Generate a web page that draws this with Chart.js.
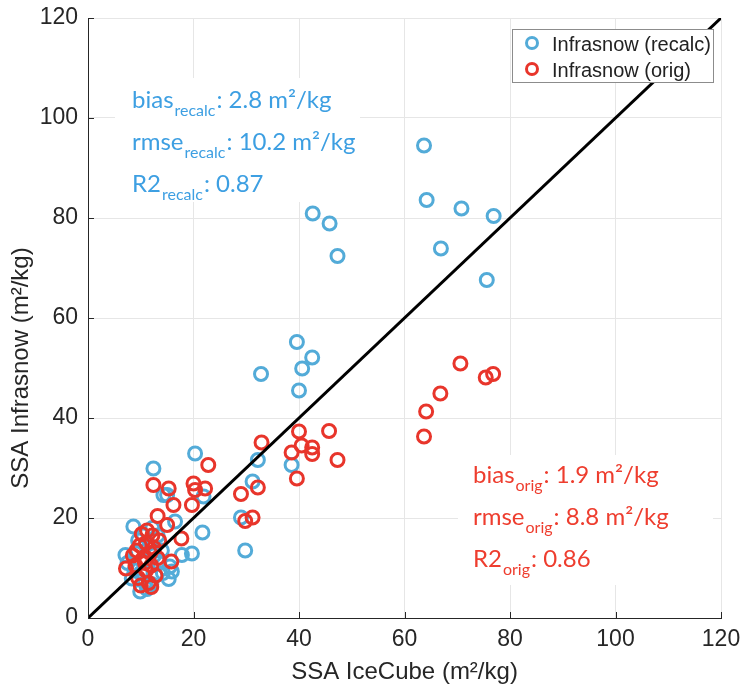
<!DOCTYPE html>
<html>
<head>
<meta charset="utf-8">
<script src="https://cdn.jsdelivr.net/npm/chart.js@4.4.1/dist/chart.umd.min.js"></script>
<style>
  html, body { margin: 0; padding: 0; background: #fff; }
  #wrap { width: 745px; height: 691px; }
</style>
</head>
<body>
<div id="wrap"><canvas id="scatter" width="745" height="691"></canvas></div>
<script>
// ----------------------------------------------------
// DATA
// ----------------------------------------------------
const recalcX = [63.7, 64.2, 70.8, 76.9, 66.9, 75.6, 42.6, 45.8, 47.3, 39.6, 42.5, 40.6, 32.8, 40.0,
    38.6, 32.2, 31.2, 29.0, 29.8, 20.3, 12.4, 15.0, 14.3, 21.9, 16.5, 21.7, 19.7, 17.8, 15.5, 15.3, 15.9,
    8.6, 7.1, 7.5, 8.3, 9.9, 11.2, 12.0, 12.8, 13.5, 14.0, 13.2, 12.2, 9.5, 9.0, 10.0, 11.0, 12.0, 10.5,
    8.8, 14.2, 10.8, 12.5];
const recalcY = [94.5, 83.6, 81.9, 80.4, 73.9, 67.6, 80.9, 78.9, 72.4, 55.2, 52.1, 49.9, 48.8, 45.5,
    30.6, 31.6, 27.3, 20.1, 13.5, 32.9, 29.9, 24.6, 24.6, 24.3, 19.3, 17.1, 12.9, 12.6, 10.3, 7.8, 9.3,
    18.3, 12.6, 11.0, 7.9, 5.3, 5.8, 6.8, 8.5, 11.0, 13.5, 16.5, 18.0, 15.5, 13.0, 9.0, 11.5, 14.0, 16.5,
    9.5, 9.0, 7.0, 12.5];

const origX = [63.7, 64.1, 66.8, 70.6, 75.4, 76.8,
    45.7, 40.0, 32.9, 40.5, 42.5, 42.5, 38.6, 47.3, 39.6, 32.2, 29.0, 29.8, 31.2,
    22.8, 12.4, 15.3, 20.0, 20.3, 22.2, 16.2, 19.7, 13.2, 15.0, 17.7, 15.8,
    7.2, 8.5, 9.0, 9.5, 9.8, 10.2, 10.5, 11.0, 11.0, 11.5, 11.8, 12.0, 12.2, 12.5, 12.8, 13.2,
    10.0, 11.2, 9.2, 13.5, 10.8, 12.0];
const origY = [36.3, 41.3, 44.9, 50.9, 48.1, 48.8,
    37.4, 37.3, 35.1, 34.5, 34.1, 32.8, 33.1, 31.6, 27.9, 26.1, 24.8, 19.4, 20.1,
    30.6, 26.6, 25.9, 26.9, 25.6, 25.9, 22.6, 22.6, 20.4, 18.6, 15.9, 11.3,
    9.9, 12.5, 10.5, 8.0, 14.5, 16.8, 12.0, 9.5, 15.0, 7.0, 13.0, 10.5, 16.5, 14.0, 8.5, 12.0,
    6.5, 17.5, 13.5, 15.5, 11.0, 6.2];

const oneToOne = [0, 120];
const axisTicks = [0, 20, 40, 60, 80, 100, 120];

const statsRecalc = [
    ['bias', 'recalc', ': 2.8 m²/kg'],
    ['rmse', 'recalc', ': 10.2 m²/kg'],
    ['R2', 'recalc', ': 0.87']
];
const statsOrig = [
    ['bias', 'orig', ': 1.9 m²/kg'],
    ['rmse', 'orig', ': 8.8 m²/kg'],
    ['R2', 'orig', ': 0.86']
];

const BLUE = '#53abd8';
const RED = '#e8352b';
const BLUE_TEXT = '#3d9fe2';
const RED_TEXT = '#ee3d2e';
const AXIS_FONT = "'Liberation Sans', Arial, sans-serif";
const STAT_FONT = "Lato, 'Open Sans', sans-serif";

// ----------------------------------------------------
// OVERLAY: inward ticks, y label, legend box, stats text
// ----------------------------------------------------
function drawStats(ctx, lines, x, y0, color) {
    lines.forEach((ln, i) => {
        const y = y0 + i * 42;
        let cx = x;
        ctx.fillStyle = color;
        ctx.textBaseline = 'alphabetic';
        ctx.textAlign = 'left';
        ctx.font = '24px ' + STAT_FONT;
        ctx.fillText(ln[0], cx, y);
        cx += ctx.measureText(ln[0]).width + 1;
        ctx.font = '16px ' + STAT_FONT;
        ctx.fillText(ln[1], cx, y + 8);
        cx += ctx.measureText(ln[1]).width + 1;
        ctx.font = '24px ' + STAT_FONT;
        ctx.fillText(ln[2], cx, y);
    });
}

const overlay = {
    id: 'overlay',
    afterDraw(chart) {
        const ctx = chart.ctx;
        const xs = chart.scales.x, ys = chart.scales.y;
        ctx.save();

        // inward tick marks
        ctx.strokeStyle = '#262626';
        ctx.lineWidth = 1;
        axisTicks.forEach(t => {
            const px = Math.round(xs.getPixelForValue(t)) + 0.5;
            ctx.beginPath(); ctx.moveTo(px, ys.bottom); ctx.lineTo(px, ys.bottom - 6); ctx.stroke();
            const py = Math.round(ys.getPixelForValue(t)) + 0.5;
            ctx.beginPath(); ctx.moveTo(xs.left, py); ctx.lineTo(xs.left + 6, py); ctx.stroke();
        });

        // y axis label (sits a bit below the axis centre in the original)
        ctx.save();
        ctx.translate(21, 368);
        ctx.rotate(-Math.PI / 2);
        ctx.fillStyle = '#262626';
        ctx.font = '24px ' + AXIS_FONT;
        ctx.textAlign = 'center';
        ctx.textBaseline = 'middle';
        ctx.fillText('SSA Infrasnow (m²/kg)', 0, 0);
        ctx.restore();

        // stats text boxes (white background hides grid)
        ctx.fillStyle = '#fff';
        ctx.fillRect(115, 78, 245, 124);
        ctx.fillRect(458, 455, 255, 130);
        drawStats(ctx, statsRecalc, 132, 108, BLUE_TEXT);
        drawStats(ctx, statsOrig, 473, 483, RED_TEXT);

        // legend
        const lx = 512, ly = 29, lw = 201, lh = 53;
        ctx.fillStyle = '#fff';
        ctx.fillRect(lx, ly, lw, lh);
        ctx.strokeStyle = '#8c8c8c';
        ctx.lineWidth = 1;
        ctx.strokeRect(lx + 0.5, ly + 0.5, lw, lh);
        const items = chart.data.datasets.filter(d => d.inLegend);
        items.forEach((d, i) => {
            const cy = ly + 14 + i * 26;
            ctx.beginPath();
            ctx.arc(lx + 20, cy, 5.5, 0, Math.PI * 2);
            ctx.strokeStyle = d.borderColor;
            ctx.lineWidth = 3;
            ctx.stroke();
            ctx.fillStyle = '#222';
            ctx.font = '20px ' + AXIS_FONT;
            ctx.textBaseline = 'middle';
            ctx.textAlign = 'left';
            ctx.fillText(d.label, lx + 40, cy + 2);
        });
        ctx.restore();
    }
};

// ----------------------------------------------------
// CHART
// ----------------------------------------------------
function toPoints(xs, ys) {
    return xs.map((x, i) => ({ x: x, y: ys[i] }));
}

const ctx = document.getElementById('scatter').getContext('2d');
new Chart(ctx, {
    type: 'scatter',
    data: {
        datasets: [
            {
                label: 'Infrasnow (recalc)',
                data: toPoints(recalcX, recalcY),
                borderColor: BLUE,
                backgroundColor: 'rgba(0,0,0,0)',
                borderWidth: 3,
                pointRadius: 6.5,
                inLegend: true,
                order: 2
            },
            {
                label: 'Infrasnow (orig)',
                data: toPoints(origX, origY),
                borderColor: RED,
                backgroundColor: 'rgba(0,0,0,0)',
                borderWidth: 3,
                pointRadius: 6.5,
                inLegend: true,
                order: 1
            },
            {
                type: 'line',
                label: '1:1',
                data: toPoints(oneToOne, oneToOne),
                borderColor: '#000',
                borderWidth: 3,
                pointRadius: 0,
                fill: false,
                inLegend: false,
                order: 0
            }
        ]
    },
    options: {
        responsive: false,
        animation: false,
        events: [],
        layout: { padding: { left: 0, right: 24, top: 18, bottom: 0 } },
        plugins: { legend: { display: false }, tooltip: { enabled: false } },
        scales: {
            x: {
                type: 'linear',
                min: 0, max: 120,
                afterFit: s => { s.height = 73; s.paddingLeft = 0; s.paddingRight = 0; },
                ticks: { stepSize: 20, color: '#262626', padding: 8, font: { family: AXIS_FONT, size: 23 } },
                grid: { color: '#e6e6e6', drawTicks: false },
                border: { color: '#262626', width: 1 },
                title: {
                    display: true, text: 'SSA IceCube (m²/kg)', color: '#262626',
                    font: { family: AXIS_FONT, size: 24 }, padding: { top: 0, bottom: 4 }
                }
            },
            y: {
                type: 'linear',
                min: 0, max: 120,
                afterFit: s => { s.width = 88; s.paddingTop = 0; s.paddingBottom = 0; },
                ticks: { stepSize: 20, color: '#262626', padding: 10, font: { family: AXIS_FONT, size: 23 } },
                grid: { color: '#e6e6e6', drawTicks: false },
                border: { color: '#262626', width: 1 }
            }
        }
    },
    plugins: [overlay]
});
</script>
</body>
</html>
